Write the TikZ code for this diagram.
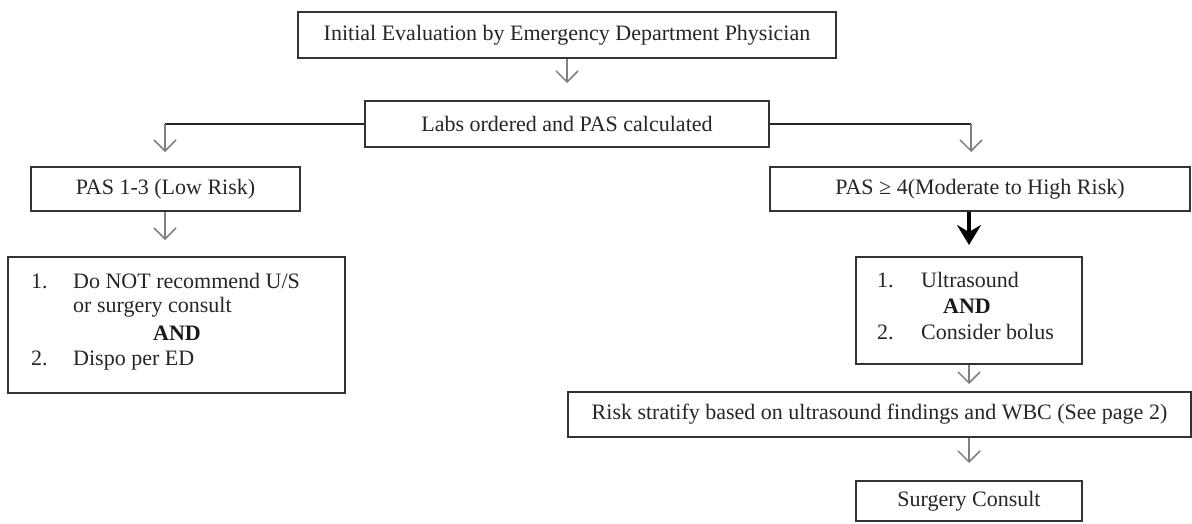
\documentclass[tikz,border=0pt]{standalone}
\usepackage{fontspec}
\setmainfont{Liberation Serif}
\usetikzlibrary{arrows.meta}
\begin{document}
\begin{tikzpicture}[x=1pt,y=-1pt,
  box/.style={draw=black!80, line width=2pt, rectangle, inner sep=0pt,
    font=\fontsize{22}{25}\selectfont, text=black!85},
  txt/.style={font=\fontsize{22}{25}\selectfont, text=black!85, inner sep=0pt},
  boldtxt/.style={font=\fontsize{22}{25}\selectfont\bfseries, text=black!90, inner sep=0pt},
  thinarrow/.style={draw=black!50, line width=1.5pt, -{Straight Barb[length=11pt,width=22pt]}},
  boldarrow/.style={draw=black, line width=4pt, -{Stealth[length=20pt,width=24pt,inset=7pt]}},
  link/.style={draw=black!85, line width=2pt}]
\useasboundingbox (0,0) rectangle (1192,523);
\fill[white] (0,0) rectangle (1192,523);

% boxes
\node[box, minimum width=538pt, minimum height=46pt] (eval) at (567,35) {Initial Evaluation by Emergency Department Physician};
\node[box, minimum width=404pt, minimum height=46pt] (labs) at (567,124) {Labs ordered and PAS calculated};
\node[box, minimum width=269pt, minimum height=44pt] (low) at (165.5,189) {PAS 1-3 (Low Risk)};
\node[box, minimum width=420pt, minimum height=44pt] (high) at (980,189) {PAS ≥ 4(Moderate to High Risk)};
\node[box, minimum width=337pt, minimum height=136pt] (lowlist) at (176.5,325) {};
\node[box, minimum width=226pt, minimum height=107pt] (us) at (969,310.5) {};
\node[box, minimum width=623pt, minimum height=45pt] (risk) at (879.5,414.5) {Risk stratify based on ultrasound findings and WBC (See page 2)};
\node[box, minimum width=226pt, minimum height=40pt] (surg) at (969,501) {Surgery Consult};

% list texts (left)
\node[txt, anchor=base west] (l1n) at (31,288) {1.};
\node[txt, anchor=base west] (l1a) at (73,288) {Do NOT recommend U/S};
\node[txt, anchor=base west] (l1b) at (73,312) {or surgery consult};
\node[boldtxt, anchor=base] (land) at (177,340) {AND};
\node[txt, anchor=base west] (l2n) at (31,365) {2.};
\node[txt, anchor=base west] (l2a) at (73,365) {Dispo per ED};

% list texts (right)
\node[txt, anchor=base west] (r1n) at (877,287) {1.};
\node[txt, anchor=base west] (r1a) at (921,287) {Ultrasound};
\node[boldtxt, anchor=base] (rand) at (967,313) {AND};
\node[txt, anchor=base west] (r2n) at (877,339) {2.};
\node[txt, anchor=base west] (r2a) at (921,339) {Consider bolus};

% junctions
\coordinate (jl) at (165,124);
\coordinate (jr) at (971,124);

% connectors
\draw[thinarrow, shorten >=17pt] (eval) -- (labs);
\draw[link] (labs.west) -- (jl);
\draw[link] (labs.east) -- (jr);
\draw[thinarrow, shorten >=14pt] (jl) -- (jl |- low.north);
\draw[thinarrow, shorten >=14pt] (jr) -- (jr |- high.north);
\draw[thinarrow, shorten >=16pt] (jl |- low.south) -- (jl |- lowlist.north);
\draw[boldarrow, shorten >=11pt] (us.north |- high.south) -- (us.north);
\draw[thinarrow, shorten >=7pt] (us.south) -- (us.south |- risk.north);
\draw[thinarrow, shorten >=17pt] (surg.north |- risk.south) -- (surg.north);
\end{tikzpicture}
\end{document}
